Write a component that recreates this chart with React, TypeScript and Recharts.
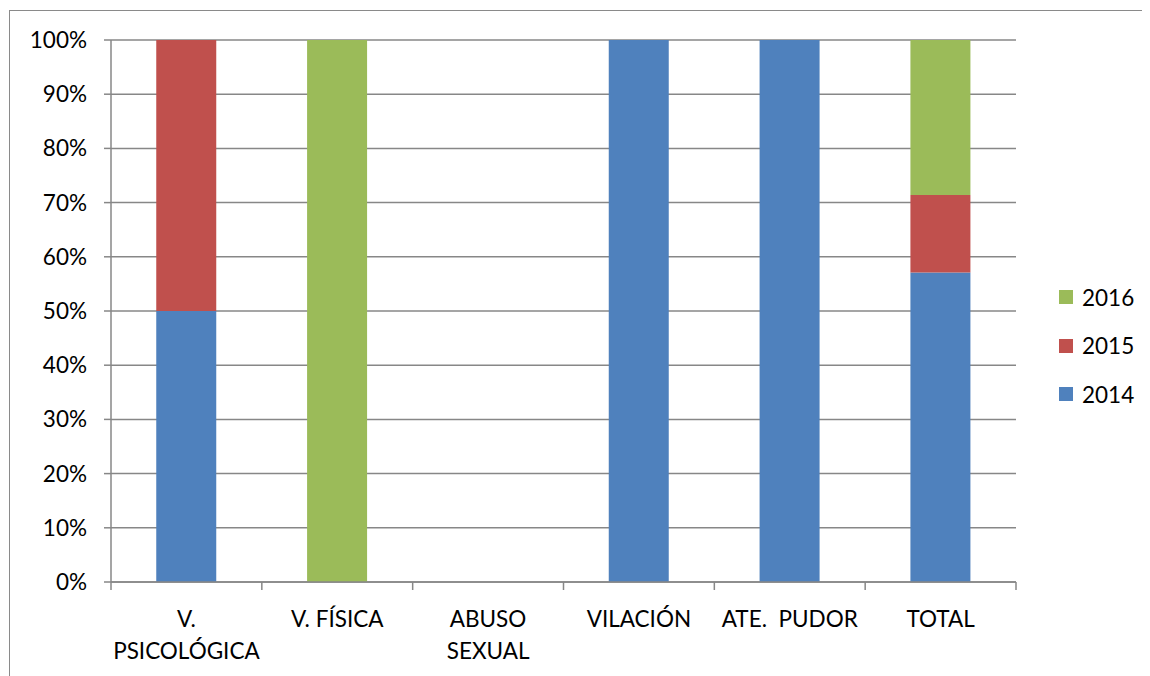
import React from "react";
import { BarChart, Bar, XAxis, YAxis, CartesianGrid } from "recharts";

const categories = ["V.\nPSICOLÓGICA", "V. FÍSICA", "ABUSO\nSEXUAL", "VILACIÓN", "ATE.  PUDOR", "TOTAL"];
const s2014 = [50, 0, 0, 100, 100, 57.1];
const s2015 = [50, 0, 0, 0, 0, 14.3];
const s2016 = [0, 100, 0, 0, 0, 28.6];
const yTicks = [0, 10, 20, 30, 40, 50, 60, 70, 80, 90, 100];

const series = [
  { key: "y2014", name: "2014", color: "#4F81BD", values: s2014 },
  { key: "y2015", name: "2015", color: "#C0504D", values: s2015 },
  { key: "y2016", name: "2016", color: "#9BBB59", values: s2016 },
];

const data = categories.map((c, i) => {
  const row: any = { cat: c };
  series.forEach((s) => (row[s.key] = s.values[i]));
  return row;
});

const FONT = "Lato, 'Open Sans', sans-serif";
const GRID = "#878787";
const W = 1142;
const H = 668;
const M = { top: 32, right: 134, left: 0, bottom: 34 };
const YW = 103;
const FS = 22.5;

function XTick(props: any) {
  const { x, y, payload, index, visibleTicksCount } = props;
  const band = (W - M.left - M.right - YW) / categories.length;
  const half = band / 2;
  const lines: string[] = String(payload.value).split("\n");
  const last = index === (visibleTicksCount ?? categories.length) - 1;
  return (
    <g>
      <line x1={x - half} x2={x - half} y1={y} y2={y + 8} stroke={GRID} strokeWidth={1.5} />
      {last && <line x1={x + half} x2={x + half} y1={y} y2={y + 8} stroke={GRID} strokeWidth={1.5} />}
      {lines.map((l, i) => (
        <text
          key={i}
          x={x}
          y={y + 36 + i * 32}
          textAnchor="middle"
          dominantBaseline="central"
          fontFamily={FONT}
          fontSize={FS}
          fill="#000"
          style={{ whiteSpace: "pre" }}
        >
          {l}
        </text>
      ))}
    </g>
  );
}

export default function App() {
  const legendItems = [...series].reverse();
  return (
    <div style={{ position: "relative", width: W, height: H, overflow: "hidden" }}>
      <div
        style={{
          position: "absolute",
          left: 1,
          top: 2,
          width: W + 20,
          height: H + 20,
          borderLeft: "1px solid #8a8a8a",
          borderTop: "1px solid #8a8a8a",
          boxSizing: "border-box",
        }}
      />
      <div style={{ position: "absolute", left: 0, top: 0 }}>
        <BarChart width={W} height={H} data={data} margin={M} barCategoryGap="30%">
          <CartesianGrid horizontal vertical={false} stroke={GRID} strokeWidth={1.5} />
          <XAxis
            dataKey="cat"
            interval={0}
            tickLine={false}
            tickSize={0}
            tickMargin={0}
            height={60}
            axisLine={{ stroke: GRID, strokeWidth: 1.5 }}
            tick={<XTick />}
          />
          <YAxis
            width={YW}
            domain={[0, 100]}
            ticks={yTicks}
            interval={0}
            tickFormatter={(v: number) => `${v}%`}
            tickSize={7}
            tickMargin={17}
            tickLine={{ stroke: GRID, strokeWidth: 1.5 }}
            axisLine={{ stroke: GRID, strokeWidth: 1.5 }}
            tick={{ fontFamily: FONT, fontSize: FS, fill: "#000" }}
          />
          {series.map((s) => (
            <Bar key={s.key} dataKey={s.key} name={s.name} stackId="a" fill={s.color} isAnimationActive={false} />
          ))}
        </BarChart>
      </div>
      {legendItems.map((s, i) => (
        <div
          key={s.key}
          style={{
            position: "absolute",
            left: 1051,
            top: 289 - 16 + i * 48.5,
            height: 32,
            display: "flex",
            alignItems: "center",
            fontFamily: FONT,
            fontSize: FS,
            color: "#000",
          }}
        >
          <span style={{ display: "inline-block", width: 14, height: 14, background: s.color, marginRight: 9 }} />
          <span>{s.name}</span>
        </div>
      ))}
    </div>
  );
}
